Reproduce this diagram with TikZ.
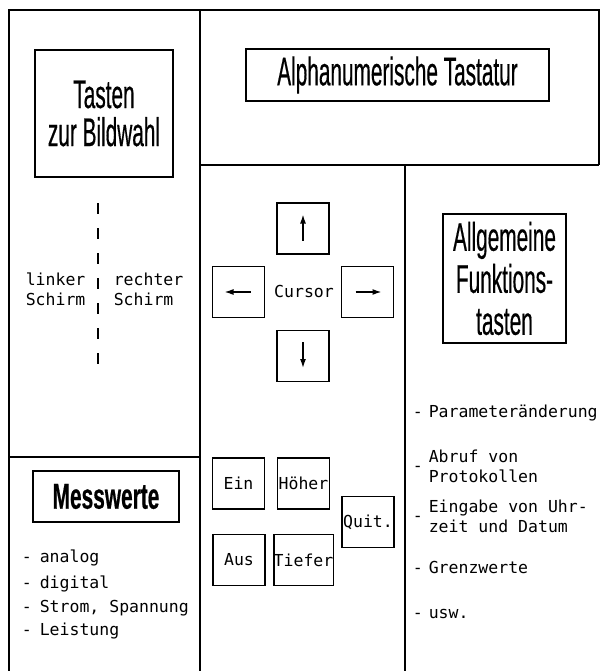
\documentclass[tikz,border=0pt]{standalone}
\usepackage{fontspec}
\setmonofont{DejaVu Sans Mono}
\newfontfamily\headfont[FakeStretch=0.52,FakeBold=0.4]{Liberation Sans}
\newfontfamily\headboldfont[FakeStretch=0.58,FakeBold=0.5]{Liberation Sans Bold}
\usetikzlibrary{arrows.meta}

\begin{document}
\begin{tikzpicture}[x=1pt,y=-1pt,line width=1.6pt,
	titlebox/.style={draw,inner sep=0pt,align=center,font=\headfont\fontsize{40}{42}\selectfont},
	keybox/.style={draw,minimum width=52pt,minimum height=51pt,inner sep=0pt,font=\ttfamily\fontsize{16.5}{20}\selectfont},
	txt/.style={anchor=base west,inner sep=0pt,font=\ttfamily\fontsize{16.5}{20}\selectfont},
	bullet/.style={anchor=base west,inner sep=0pt,font=\ttfamily\fontsize{16.5}{20}\selectfont},
	keyarrow/.style={line width=1.4pt,-{Latex[length=9pt,width=6pt]}}]
	\useasboundingbox (0,0) rectangle (600,671);
	% frame
	\draw (9,671) -- (9,10) -- (599,10) -- (599,165);
	\draw (200,10) -- (200,671);
	\draw (200,165) -- (599,165);
	\draw (405,165) -- (405,671);
	\draw (9,457) -- (200,457);
	
	% titles
	\node[titlebox,minimum width=138pt,minimum height=127pt,font=\headfont\fontsize{40}{38}\selectfont] (bildwahl) at (104,113.5) {Tasten\\zur Bildwahl};
	\node[titlebox,minimum width=303pt,minimum height=52pt] (alpha) at (397.5,75) {Alphanumerische Tastatur};
	\node[titlebox,minimum width=123pt,minimum height=129pt] (funktion) at (504.5,278.5) {Allgemeine\\Funktions-\\tasten};
	\node[titlebox,minimum width=146pt,minimum height=51pt,font=\headboldfont\fontsize{36}{40}\selectfont] (messwerte) at (106,496.5) {Messwerte};
	
	% screens
	\draw[dash pattern=on 11pt off 14pt] (98,203) -- (98,370);
	\node[txt] (linker) at (25,285) {linker};
	\node[txt] (schirml) at (25,305) {Schirm};
	\node[txt] (rechter) at (113,285) {rechter};
	\node[txt] (schirmr) at (113,305) {Schirm};
	
	% cursor keys
	\node[keybox] (up) at (303,228.5) {};
	\node[keybox] (left) at (238.5,292) {};
	\node[keybox] (right) at (367.5,292) {};
	\node[keybox] (down) at (303,356) {};
	\node[txt,anchor=base] (cursor) at (304,297) {Cursor};
	\draw[keyarrow] ([yshift=-12]up.center) -- ([yshift=14]up.center);
	\draw[keyarrow] ([yshift=14]down.center) -- ([yshift=-12]down.center);
	\draw[keyarrow] ([xshift=12]left.center) -- ([xshift=-14]left.center);
	\draw[keyarrow] ([xshift=-12]right.center) -- ([xshift=14]right.center);
	
	% function keys
	\node[keybox] (ein) at (238.5,483.5) {Ein};
	\node[keybox] (hoeher) at (303.5,483.5) {Höher};
	\node[keybox] (quit) at (368,522) {Quit.};
	\node[keybox] (aus) at (239,560) {Aus};
	\node[keybox] (tiefer) at (303.5,560) {Tiefer};
	
	% Messwerte
	\node[bullet] (m1) at (21,562) {-};
	\node[txt] (analog) at (39,562) {analog};
	\node[bullet] (m2) at (21,588) {-};
	\node[txt] (digital) at (39,588) {digital};
	\node[bullet] (m3) at (21,612) {-};
	\node[txt] (strom) at (39,612) {Strom, Spannung};
	\node[bullet] (m4) at (21,635) {-};
	\node[txt] (leistung) at (39,635) {Leistung};
	
	% Funktionen
	\node[bullet] (f1) at (412,417) {-};
	\node[txt] (param) at (428,417) {Parameteränderung};
	\node[bullet] (f2) at (412,471) {-};
	\node[txt] (abruf) at (428,462) {Abruf von};
	\node[txt] (protokoll) at (428,482) {Protokollen};
	\node[bullet] (f3) at (412,521) {-};
	\node[txt] (eingabe) at (428,512) {Eingabe von Uhr-};
	\node[txt] (zeit) at (428,532) {zeit und Datum};
	\node[bullet] (f4) at (412,573) {-};
	\node[txt] (grenz) at (428,573) {Grenzwerte};
	\node[bullet] (f5) at (412,618) {-};
	\node[txt] (usw) at (428,618) {usw.};
\end{tikzpicture}
\end{document}
